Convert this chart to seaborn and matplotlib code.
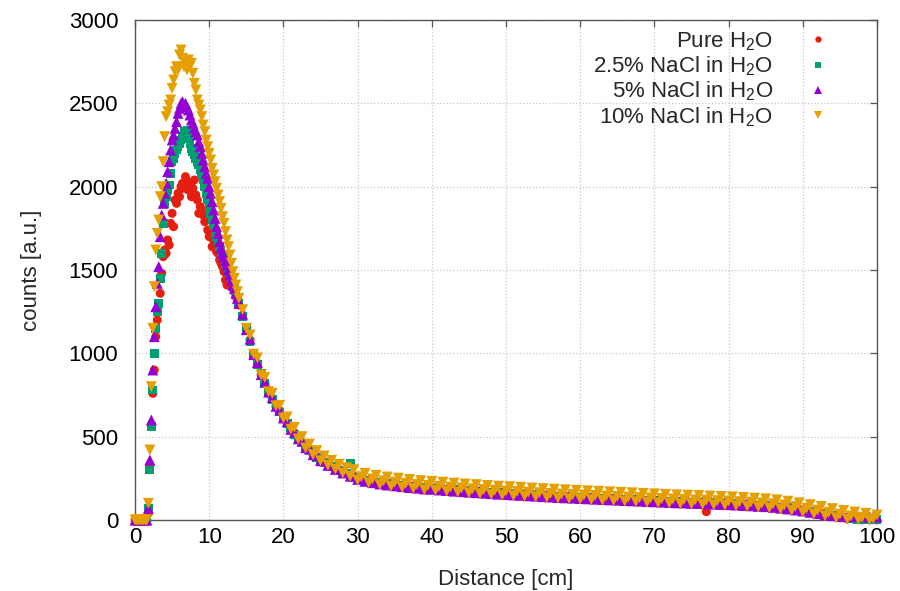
import numpy as np
import pandas as pd
import matplotlib
matplotlib.use('Agg')
import matplotlib.pyplot as plt
import seaborn as sns

# bins: 0.2 cm up to 14 cm, 0.5 cm after that
distance = np.round(np.concatenate([np.arange(0, 14.01, 0.2), np.arange(14.5, 100.01, 0.5)]), 1)

pure_h2o = [
    0, 0, 0, 0, 0, 0, 0, 0, 0, 40,
    330, 560, 760, 900, 1100, 1200, 1290, 1360, 1480, 1580,
    1620, 1600, 1680, 1650, 1780, 1840, 1760, 1920, 1900, 1960,
    1940, 2000, 2020, 1990, 2060, 2030, 1980, 2010, 1940, 1990,
    2040, 1950, 1920, 1840, 1880, 1860, 1830, 1790, 1800, 1740,
    1700, 1720, 1640, 1680, 1630, 1610, 1600, 1560, 1540, 1520,
    1490, 1440, 1410, 1450, 1430, 1400, 1390, 1370, 1340, 1310,
    1290,
    1230, 1140, 1080, 990, 940, 870, 825, 765, 730, 682,
    655, 610, 585, 545, 522, 486, 468, 434, 422, 392,
    382, 356, 350, 328, 325, 305, 300, 282, 281, 264,
    263, 244, 247, 232, 237, 224, 229, 216, 222, 210,
    216, 205, 212, 200, 207, 195, 202, 191, 197, 186,
    195, 184, 191, 180, 188, 177, 184, 173, 181, 170,
    177, 167, 174, 164, 171, 161, 168, 158, 166, 155,
    163, 153, 161, 150, 158, 148, 156, 145, 153, 143,
    151, 140, 148, 138, 146, 135, 143, 133, 141, 131,
    139, 129, 137, 127, 135, 125, 133, 123, 131, 121,
    129, 119, 127, 117, 125, 115, 123, 113, 121, 111,
    119, 109, 117, 107, 115, 105, 113, 103, 111, 102,
    110, 100, 108, 99, 107, 50, 105, 95, 103, 93,
    102, 92, 100, 90, 97, 87, 95, 85, 92, 82,
    89, 79, 86, 75, 82, 70, 77, 65, 71, 59,
    64, 52, 57, 44, 50, 37, 42, 29, 33, 20,
    26, 13, 18, 6, 12, 3, 6, 1, 3, 1,
    2, 0,
]

nacl_2_5 = [
    0, 0, 0, 0, 0, 0, 0, 0, 0, 70,
    300, 560, 780, 1000, 1150, 1250, 1300, 1450, 1600, 1780,
    1900, 1940, 1980, 2010, 2080, 2150, 2170, 2200, 2220, 2240,
    2260, 2280, 2300, 2330, 2320, 2340, 2290, 2260, 2230, 2210,
    2190, 2170, 2150, 2130, 2100, 2070, 2040, 2000, 1960, 1920,
    1880, 1840, 1800, 1770, 1730, 1700, 1670, 1640, 1610, 1590,
    1570, 1540, 1520, 1490, 1460, 1440, 1410, 1390, 1360, 1330,
    1300,
    1222, 1150, 1072, 1000, 932, 880, 818, 772, 722, 690,
    648, 620, 578, 552, 515, 495, 462, 442, 416, 400,
    376, 364, 344, 336, 320, 312, 296, 290, 278, 340,
    256, 252, 240, 240, 230, 232, 222, 224, 215, 218,
    209, 213, 205, 208, 200, 203, 195, 199, 190, 194,
    188, 192, 184, 188, 181, 185, 177, 181, 174, 178,
    170, 175, 167, 172, 164, 169, 161, 166, 159, 163,
    156, 161, 154, 158, 151, 156, 149, 153, 146, 151,
    144, 148, 141, 146, 139, 143, 136, 141, 134, 139,
    132, 137, 130, 135, 128, 133, 126, 131, 124, 129,
    122, 127, 120, 125, 118, 123, 116, 121, 114, 119,
    112, 117, 110, 115, 108, 113, 106, 111, 104, 110,
    103, 108, 101, 107, 100, 105, 98, 103, 96, 101,
    95, 100, 93, 98, 90, 95, 88, 93, 85, 90,
    82, 87, 79, 83, 75, 78, 70, 73, 64, 67,
    57, 60, 50, 52, 43, 45, 35, 37, 26, 28,
    19, 21, 12, 14, 8, 8, 4, 4, 2, 2,
    1, 1,
]

nacl_5 = [
    0, 0, 0, 0, 0, 0, 0, 0, 0, 70,
    360, 600, 900, 1100, 1280, 1420, 1520, 1700, 1830, 1900,
    1960, 2020, 2090, 2150, 2220, 2280, 2310, 2350, 2390, 2440,
    2470, 2500, 2510, 2490, 2500, 2480, 2460, 2430, 2400, 2380,
    2350, 2330, 2310, 2270, 2240, 2200, 2160, 2120, 2080, 2050,
    2000, 1960, 1910, 1860, 1810, 1760, 1720, 1670, 1630, 1600,
    1580, 1555, 1530, 1500, 1470, 1440, 1410, 1390, 1360, 1330,
    1300,
    1235, 1142, 1085, 992, 945, 872, 830, 767, 735, 682,
    660, 612, 590, 544, 527, 487, 473, 434, 427, 392,
    387, 356, 355, 328, 329, 304, 305, 282, 285, 263,
    267, 244, 251, 232, 241, 224, 233, 216, 226, 210,
    220, 205, 216, 200, 211, 195, 206, 191, 201, 186,
    199, 184, 195, 180, 192, 177, 188, 173, 185, 170,
    181, 167, 178, 164, 175, 161, 172, 158, 170, 155,
    167, 153, 165, 150, 162, 148, 160, 145, 157, 143,
    155, 140, 152, 138, 150, 135, 147, 133, 145, 131,
    143, 129, 141, 127, 139, 125, 137, 123, 135, 121,
    133, 119, 131, 117, 129, 115, 127, 113, 125, 111,
    123, 109, 121, 107, 119, 105, 117, 103, 115, 102,
    114, 100, 112, 99, 111, 97, 109, 95, 107, 93,
    106, 92, 104, 90, 101, 87, 99, 85, 96, 82,
    93, 80, 90, 76, 86, 71, 81, 66, 75, 60,
    68, 54, 61, 46, 54, 39, 46, 32, 37, 26,
    30, 22, 25, 20, 22, 20, 21, 20, 20, 19,
    20, 18,
]

nacl_10 = [
    0, 0, 0, 0, 0, 0, 0, 0, 0, 100,
    420, 800, 1150, 1400, 1620, 1720, 1800, 1940, 2000, 2150,
    2300, 2420, 2450, 2490, 2520, 2590, 2640, 2690, 2720, 2700,
    2790, 2820, 2770, 2720, 2740, 2700, 2760, 2720, 2740, 2680,
    2620, 2580, 2520, 2490, 2460, 2420, 2370, 2330, 2280, 2240,
    2200, 2160, 2110, 2070, 2030, 1990, 1950, 1910, 1870, 1820,
    1780, 1730, 1680, 1640, 1590, 1540, 1490, 1450, 1410, 1370,
    1330,
    1262, 1150, 1110, 995, 972, 870, 855, 770, 760, 685,
    688, 612, 618, 545, 556, 486, 500, 432, 455, 392,
    416, 355, 384, 328, 358, 305, 334, 282, 314, 262,
    302, 240, 260, 280, 224, 246, 268, 212, 235, 258,
    203, 227, 251, 196, 220, 243, 189, 213, 236, 182,
    208, 232, 178, 202, 227, 173, 197, 221, 168, 192,
    216, 163, 187, 212, 158, 183, 207, 154, 179, 203,
    150, 175, 200, 146, 171, 196, 143, 167, 192, 139,
    164, 188, 135, 160, 185, 131, 156, 181, 128, 153,
    178, 125, 150, 175, 122, 147, 172, 119, 144, 169,
    116, 141, 166, 113, 138, 163, 110, 135, 160, 107,
    132, 157, 104, 129, 154, 101, 126, 151, 98, 124,
    149, 96, 121, 147, 94, 119, 144, 91, 116, 141,
    89, 114, 139, 86, 110, 135, 82, 107, 131, 78,
    102, 127, 73, 97, 121, 66, 90, 113, 58, 81,
    103, 48, 70, 92, 37, 59, 81, 25, 46, 68,
    13, 35, 57, 4, 25, 48, 2, 16, 40, 1,
    10, 30,
]

labels = ['Pure H$_2$O', '2.5% NaCl in H$_2$O', '5% NaCl in H$_2$O', '10% NaCl in H$_2$O']
colours = ['#e51e10', '#009e73', '#9400d3', '#e69f00']
marker_shapes = ['o', 's', '^', 'v']
marker_sizes = [42, 40, 62, 62]

series = [pure_h2o, nacl_2_5, nacl_5, nacl_10]
frames = []
for lab, vals in zip(labels, series):
    assert len(vals) == len(distance), (lab, len(vals), len(distance))
    frames.append(pd.DataFrame({'Distance': distance, 'counts': vals, 'sample': lab}))
df = pd.concat(frames, ignore_index=True)

sns.set_theme(style='white')
plt.rcParams['font.family'] = ['Liberation Sans', 'DejaVu Sans']
plt.rcParams['mathtext.default'] = 'regular'

fig = plt.figure(figsize=(9, 5.91), dpi=100)
ax = fig.add_axes([135 / 900, 71 / 591, 742 / 900, 500 / 591])

sns.scatterplot(data=df, x='Distance', y='counts', hue='sample', style='sample', size='sample',
                hue_order=labels, style_order=labels, size_order=labels,
                palette=dict(zip(labels, colours)), markers=dict(zip(labels, marker_shapes)),
                sizes=dict(zip(labels, marker_sizes)), linewidth=0, ax=ax, legend=True)
for coll in ax.collections:
    coll.set_clip_on(False)
    coll.set_zorder(3)

ax.set_xlim(0, 100)
ax.set_ylim(0, 3000)
ax.set_xticks(range(0, 101, 10))
ax.set_yticks(range(0, 3001, 500))
ax.grid(True, color='#c8c8c8', linestyle=':', linewidth=0.9)
ax.set_axisbelow(True)
for sp in ax.spines.values():
    sp.set_color('#555555')
    sp.set_linewidth(1.0)
ax.tick_params(direction='in', length=5, width=0.9, color='#555555',
               top=True, right=True, labelsize=16, labelcolor='black')
ax.tick_params(axis='y', pad=12)
ax.tick_params(axis='x', pad=5)
ax.set_xlabel('Distance [cm]', fontsize=16, labelpad=15)
ax.set_ylabel('counts [a.u.]', fontsize=16, labelpad=19)

handles, lbls = ax.get_legend_handles_labels()
ax.legend(handles, lbls, loc='upper right', bbox_to_anchor=(0.936, 0.98),
          markerfirst=False, frameon=False, fontsize=16, borderaxespad=0, borderpad=0,
          handlelength=1.0, handletextpad=1.55, labelspacing=0.08, markerscale=0.7)

fig.savefig('out.png', dpi=100)
